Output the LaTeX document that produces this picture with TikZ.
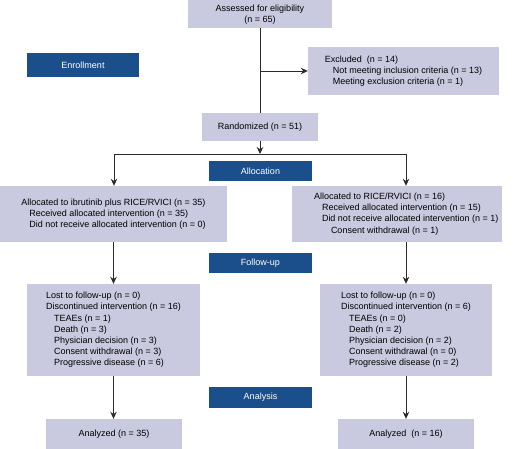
\documentclass[tikz,border=0pt]{standalone}
\usepackage{fontspec}
\setmainfont{Liberation Sans}
\usetikzlibrary{arrows.meta}
\definecolor{boxgray}{HTML}{C9CADF}
\definecolor{darkblue}{HTML}{1B4F8C}
\definecolor{linecol}{HTML}{2A2A2A}
\newcommand{\ia}{\hspace*{8pt}}
\newcommand{\ib}{\hspace*{17pt}}
\begin{document}
\begin{tikzpicture}[x=1pt,y=-1pt,
  lbox/.style={fill=boxgray,draw=none,inner sep=0pt,align=left,
    font=\fontsize{9}{11.2}\selectfont},
  dbox/.style={fill=darkblue,draw=none,inner sep=0pt,text=white,
    font=\fontsize{9}{11.2}\selectfont},
  conn/.style={draw=linecol,line width=0.9pt},
  arr/.style={conn,-{Stealth[length=7pt,width=6.5pt]}}]
\useasboundingbox (0,0) rectangle (520,449);
% boxes
\node[lbox,minimum width=144pt,minimum height=32pt] (assess) at (260,12) {};
\node[lbox,fill=none,align=center] (assesst) at (260,14.5) {Assessed for eligibility\\(n = 65)};
\node[dbox,minimum width=112pt,minimum height=24pt] (enrol) at (83,65) {Enrollment};
\node[lbox,minimum width=191pt,minimum height=48pt] (excl) at (403.5,71) {Excluded\ \ (n = 14)\\\ia Not meeting inclusion criteria (n = 13)\\\ia Meeting exclusion criteria (n = 1)};
\node[lbox,minimum width=116pt,minimum height=28pt] (rand) at (260,127) {Randomized (n = 51)};
\node[dbox,minimum width=103pt,minimum height=20pt] (alloc) at (260.5,171) {Allocation};
\node[lbox,minimum width=227pt,minimum height=56pt] (lalloc) at (113.5,214) {Allocated to ibrutinib plus RICE/RVICI (n = 35)\\\ia Received allocated intervention (n = 35)\\\ia Did not receive allocated intervention (n = 0)};
\node[lbox,minimum width=210pt,minimum height=56pt] (ralloc) at (397,214) {};
\node[lbox,anchor=west,fill=none] (ralloct) at ([xshift=22pt]ralloc.west) {Allocated to RICE/RVICI (n = 16)\\\ia Received allocated intervention (n = 15)\\\ia Did not receive allocated intervention (n = 1)\\\ib Consent withdrawal (n = 1)};
\node[dbox,minimum width=103pt,minimum height=20pt] (follow) at (260.5,263) {Follow-up};
\node[lbox,minimum width=173pt,minimum height=92pt] (lfoll) at (113.5,330) {Lost to follow-up (n = 0)\\Discontinued intervention (n = 16)\\\ia TEAEs (n = 1)\\\ia Death (n = 3)\\\ia Physician decision (n = 3)\\\ia Consent withdrawal (n = 3)\\\ia Progressive disease (n = 6)};
\node[lbox,minimum width=172pt,minimum height=92pt] (rfoll) at (406,330) {Lost to follow-up (n = 0)\\Discontinued intervention (n = 6)\\\ia TEAEs (n = 0)\\\ia Death (n = 2)\\\ia Physician decision (n = 2)\\\ia Consent withdrawal (n = 0)\\\ia Progressive disease (n = 2)};
\node[dbox,minimum width=103pt,minimum height=21pt] (analysis) at (260.5,397.5) {Analysis};
\node[lbox,minimum width=136pt,minimum height=30pt] (lan) at (114,434) {Analyzed (n = 35)};
\node[lbox,minimum width=136pt,minimum height=30pt] (ran) at (406,434) {Analyzed\ \ (n = 16)};
% connectors
\coordinate (exj) at (260,71);
\coordinate (split) at (260,154);
\coordinate (splitL) at (114,154);
\coordinate (splitR) at (406,154);
\draw[conn] (assess.south) -- (rand.north);
\draw[arr] (exj) -- (excl.west);
\draw[arr] (rand.south) -- (split);
\draw[conn] (splitL) -- (splitR);
\draw[arr] (splitL) -- (splitL |- lalloc.north);
\draw[arr] (splitR) -- (splitR |- ralloc.north);
\draw[arr] (lalloc.south) -- (lalloc.south |- lfoll.north);
\draw[arr] (rfoll.north |- ralloc.south) -- (rfoll.north);
\draw[arr] (lfoll.south) -- (lfoll.south |- lan.north);
\draw[arr] (rfoll.south) -- (rfoll.south |- ran.north);
\end{tikzpicture}
\end{document}
